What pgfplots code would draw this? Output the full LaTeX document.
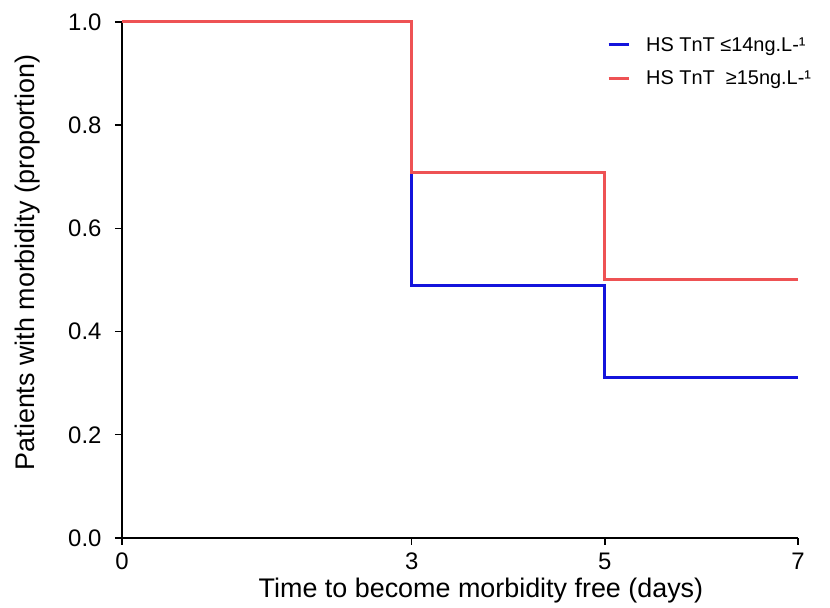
\documentclass[border=0pt]{standalone}
\usepackage{pgfplots}
\pgfplotsset{compat=1.18}
\usepackage{fontspec}
\setmainfont{Liberation Sans}
\definecolor{kmblue}{RGB}{20,20,220}
\definecolor{kmred}{RGB}{238,82,84}
\begin{document}
\begin{tikzpicture}[x=1bp,y=1bp]
\begin{axis}[
  scale only axis,
  width=676bp, height=516bp,
  xmin=0, xmax=7, ymin=0, ymax=1,
  axis x line*=bottom, axis y line*=left,
  axis line style={line width=2bp, black},
  xtick={0,3,5,7}, ytick={0,0.2,0.4,0.6,0.8,1.0},
  yticklabel style={xshift=-10bp, /pgf/number format/.cd, fixed, fixed zerofill, precision=1},
  /pgf/number format/assume math mode=true,
  tick style={black, line width=1.4bp},
  tick align=outside, major tick length=7bp,
  ticklabel style={font=\fontsize{24}{28}\selectfont},
  xticklabel style={inner sep=0pt, yshift=-8bp},
  xlabel={Time to become morbidity free (days)},
  ylabel={Patients with morbidity (proportion)},
  label style={font=\fontsize{27}{31}\selectfont},
  xlabel style={inner sep=0pt, at={(axis description cs:0.531,-0.102)}, anchor=center},
  ylabel style={at={(axis description cs:-0.139,0.534)}, anchor=center},
  clip=false,
  legend style={draw=none, fill=none, at={(0.7175,1)}, anchor=north west,
    inner sep=0pt, yshift=-13bp,
    font=\fontsize{20}{23}\selectfont, row sep=14bp,
    /tikz/every odd column/.append style={column sep=14bp}},
  legend cell align=left,
  legend image code/.code={\draw[#1] (0bp,0bp) -- (20bp,0bp);},
]
\addplot[kmblue, line width=3bp, const plot] coordinates {(0,1) (3,0.49) (5,0.312) (7,0.312)};
\addlegendentry{HS TnT ≤14ng.L-¹}
\addplot[kmred, line width=3bp, const plot] coordinates {(0,1) (3,0.708) (5,0.5) (7,0.5)};
\addlegendentry{HS TnT \ ≥15ng.L-¹}
\end{axis}
\path[use as bounding box] (-122bp,-70bp) rectangle (708bp,538bp);
\end{tikzpicture}
\end{document}
